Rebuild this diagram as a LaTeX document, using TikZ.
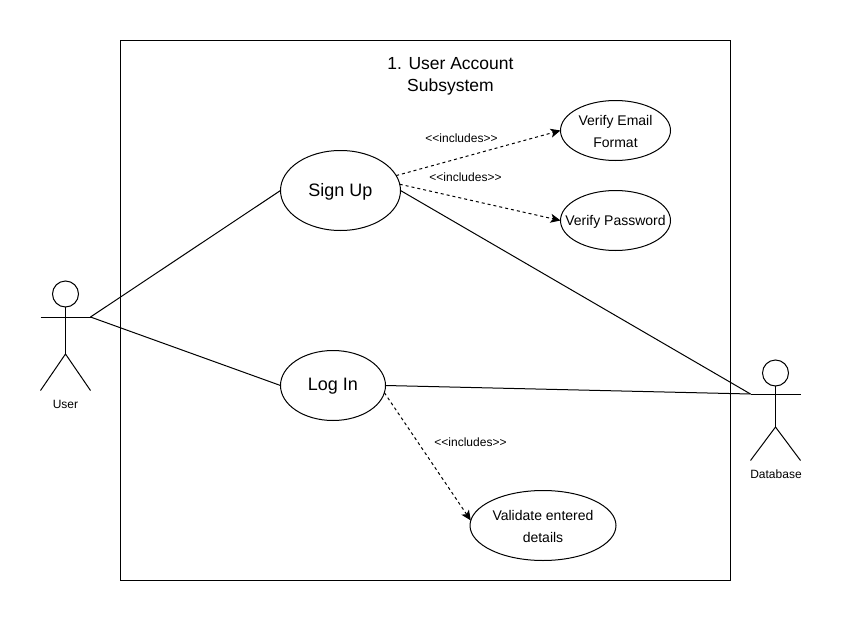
\documentclass[tikz,border=0pt]{standalone}
\usepackage{fontspec}
\setmainfont{Liberation Sans}
\usetikzlibrary{shapes.geometric,arrows.meta}
\tikzset{
  usecase/.style={ellipse,draw=black,line width=1pt,inner sep=0pt,outer sep=0pt},
  ucbig/.style={font=\fontsize{18}{22}\selectfont,align=center,inner sep=0pt,yshift=-1pt},
  ucsmall/.style={font=\fontsize{14}{22}\selectfont,align=center,inner sep=0pt,yshift=-1pt},
  small label/.style={font=\fontsize{12}{12}\selectfont,inner sep=0pt},
  title text/.style={font=\fontsize{17.5}{22.5}\selectfont,align=center,inner sep=0pt},
  solid link/.style={draw=black,line width=1pt},
  include link/.style={draw=black,line width=1pt,dash pattern=on 3pt off 3pt,-{Stealth[length=10pt,width=9pt,inset=2.5pt]}},
  actor line/.style={draw=black,line width=1pt,line cap=butt},
  boundary/.style={draw=black,line width=1pt,rectangle,inner sep=0pt,outer sep=0pt}
}
\begin{document}
\begin{tikzpicture}[x=1pt,y=-1pt]
\useasboundingbox (0,0) rectangle (841,621);
\fill[white] (0,0) rectangle (841,621);
% system boundary
\node[boundary,minimum width=610pt,minimum height=540pt] (system) at (425.5,310.5) {};
\node[title text] (title) at (450.5,76.5) {1. User Account\\Subsystem};
% use cases
\node[usecase,minimum width=120pt,minimum height=80pt,label={[ucbig]center:Sign Up}] (signup) at (340.5,190.5) {};
\node[usecase,minimum width=105pt,minimum height=70pt,label={[ucbig]center:Log In}] (login) at (333,385.5) {};
\node[usecase,minimum width=110pt,minimum height=60pt,label={[ucsmall]center:{Verify Email\\Format}}] (email) at (615.5,130.5) {};
\node[usecase,minimum width=110pt,minimum height=60pt,label={[ucsmall]center:Verify Password}] (password) at (615.5,220.5) {};
\node[usecase,minimum width=146pt,minimum height=70pt,label={[ucsmall]center:{Validate entered\\details}}] (validate) at (543,525.5) {};
% user actor
\node[circle,draw=black,line width=1pt,minimum size=26pt,inner sep=0pt,outer sep=0pt] (userhead) at (65.5,294) {};
\coordinate (userarmL) at (40.5,317);
\coordinate (userhand) at (90.5,317);
\coordinate (userhip) at (65.5,354);
\coordinate (userlegL) at (40.5,390.5);
\coordinate (userlegR) at (90.5,390.5);
\draw[actor line] (userhead.south) -- (userhip);
\draw[actor line] (userarmL) -- (userhand);
\draw[actor line] (userlegL) -- (userhip) -- (userlegR);
\node[small label] (userlabel) at (65.5,404) {User};
% database actor
\node[circle,draw=black,line width=1pt,minimum size=26pt,inner sep=0pt,outer sep=0pt] (dbhead) at (775.5,373) {};
\coordinate (dbhand) at (750.5,394);
\coordinate (dbarmR) at (800.5,394);
\coordinate (dbhip) at (775.5,427);
\coordinate (dblegL) at (750.5,460.5);
\coordinate (dblegR) at (800.5,460.5);
\draw[actor line] (dbhead.south) -- (dbhip);
\draw[actor line] (dbhand) -- (dbarmR);
\draw[actor line] (dblegL) -- (dbhip) -- (dblegR);
\node[small label] (dblabel) at (776,474) {Database};
% associations
\draw[solid link] (userhand) -- (signup.west);
\draw[solid link] (userhand) -- (login.west);
\draw[solid link] (signup.east) -- (dbhand);
\draw[solid link] (login.east) -- (dbhand);
% includes
\draw[include link] (signup.15) -- (email.west);
\draw[include link] (signup.6) -- (password.west);
\draw[include link] (login.-8) -- (validate.176);
\node[small label] (inc1) at (461.5,138) {<{}<includes>{}>};
\node[small label] (inc2) at (465.5,177) {<{}<includes>{}>};
\node[small label] (inc3) at (470.5,442) {<{}<includes>{}>};
\end{tikzpicture}
\end{document}
